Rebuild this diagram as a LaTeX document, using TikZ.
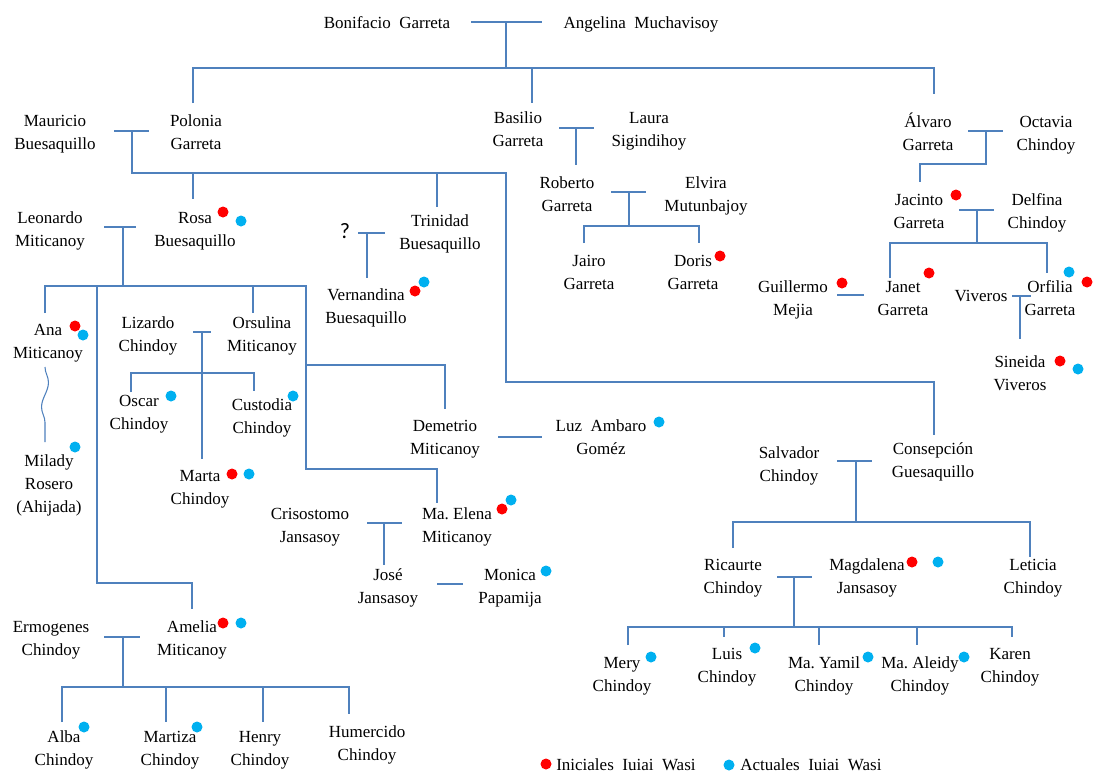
\documentclass[tikz,border=0pt]{standalone}
\usepackage{fontspec}
\setmainfont{Liberation Serif}
\newfontfamily\qfont{Carlito}
\usetikzlibrary{decorations.pathmorphing}
\definecolor{lnblue}{RGB}{79,129,189}
\definecolor{dred}{RGB}{255,0,0}
\definecolor{dblue}{RGB}{0,176,240}
\newcommand\twoln[2]{\strut#1\\\strut#2}
\frenchspacing
\begin{document}
\begin{tikzpicture}[x=0.75pt,y=-0.75pt,
  nm/.style={font=\fontsize{12.75pt}{17.25pt}\selectfont, align=center, inner sep=0pt, yshift=-1.5pt},
  rdot/.style={circle, fill=dred, inner sep=0pt, minimum size=8.25pt},
  bdot/.style={circle, fill=dblue, inner sep=0pt, minimum size=8.25pt},
  ln/.style={draw=lnblue, line width=0.8pt},
  wavy/.style={draw=lnblue, line width=0.8pt, decorate, decoration={snake, segment length=37pt, amplitude=2.6pt}}]
\useasboundingbox[fill=white] (0,0) rectangle (1095,782);

% ---------- people ----------
\node[nm] (bon) at (387,22) {\strut Bonifacio\ \ Garreta};
\node[nm] (ang) at (641,22) {\strut Angelina\ \ Muchavisoy};
\node[nm] (mau) at (55,131.5) {\twoln{Mauricio}{Buesaquillo}};
\node[nm] (pol) at (196,131.5) {\twoln{Polonia}{Garreta}};
\node[nm] (bas) at (518,128.5) {\twoln{Basilio}{Garreta}};
\node[nm] (lau) at (649,128.5) {\twoln{Laura}{Sigindihoy}};
\node[nm] (alv) at (928,132) {\twoln{Álvaro}{Garreta}};
\node[nm] (oct) at (1046,132) {\twoln{Octavia}{Chindoy}};
\node[nm] (rob) at (567,193) {\twoln{Roberto}{Garreta}};
\node[nm] (elv) at (706,193) {\twoln{Elvira}{Mutunbajoy}};
\node[nm] (jac) at (919,210) {\twoln{Jacinto}{Garreta}};
\node[nm] (del) at (1037,210) {\twoln{Delfina}{Chindoy}};
\node[nm] (leo) at (50,228) {\twoln{Leonardo}{Miticanoy}};
\node[nm] (ros) at (195,228) {\twoln{Rosa}{Buesaquillo}};
\node[nm] (tri) at (440,231.5) {\twoln{Trinidad}{Buesaquillo}};
\node[inner sep=0pt, font=\qfont\fontsize{16.5pt}{18pt}\selectfont] (unk) at (345,231) {?};
\node[nm] (ver) at (366,305.5) {\twoln{Vernandina}{Buesaquillo}};
\node[nm] (jai) at (589,271.5) {\twoln{Jairo}{Garreta}};
\node[nm] (dor) at (693,271.5) {\twoln{Doris}{Garreta}};
\node[nm] (gui) at (793,297) {\twoln{Guillermo}{Mejia}};
\node[nm] (jan) at (903,297) {\twoln{Janet}{Garreta}};
\node[nm] (viv) at (981,295) {\strut Viveros};
\node[nm] (orf) at (1050,297) {\twoln{Orfilia}{Garreta}};
\node[nm] (sin) at (1020,372) {\twoln{Sineida}{Viveros}};
\node[nm] (ana) at (48,340.5) {\twoln{Ana}{Miticanoy}};
\node[nm] (mil) at (49,483) {\strut Milady\\\strut Rosero\\\strut (Ahijada)};
\node[nm] (liz) at (148,333) {\twoln{Lizardo}{Chindoy}};
\node[nm] (ors) at (262,333) {\twoln{Orsulina}{Miticanoy}};
\node[nm] (osc) at (139,411.5) {\twoln{Oscar}{Chindoy}};
\node[nm] (cus) at (262,415.5) {\twoln{Custodia}{Chindoy}};
\node[nm] (mar) at (200,486.5) {\twoln{Marta}{Chindoy}};
\node[nm] (dem) at (445,436.5) {\twoln{Demetrio}{Miticanoy}};
\node[nm] (luz) at (601,436.5) {\twoln{Luz\ \ Ambaro}{Goméz}};
\node[nm] (cri) at (310,524.5) {\twoln{Crisostomo}{Jansasoy}};
\node[nm] (mae) at (457,524.5) {\twoln{Ma.\ Elena}{Miticanoy}};
\node[nm] (jos) at (388,585.5) {\twoln{José}{Jansasoy}};
\node[nm] (mon) at (510,585.5) {\twoln{Monica}{Papamija}};
\node[nm] (sal) at (789,463) {\twoln{Salvador}{Chindoy}};
\node[nm] (con) at (933,459.5) {\twoln{Consepción}{Guesaquillo}};
\node[nm] (ric) at (733,575.5) {\twoln{Ricaurte}{Chindoy}};
\node[nm] (mag) at (867,575.5) {\twoln{Magdalena}{Jansasoy}};
\node[nm] (let) at (1033,575.5) {\twoln{Leticia}{Chindoy}};
\node[nm] (mer) at (622,673) {\twoln{Mery}{Chindoy}};
\node[nm] (lui) at (727,664) {\twoln{Luis}{Chindoy}};
\node[nm] (yam) at (824,673) {\twoln{Ma.\ Yamil}{Chindoy}};
\node[nm] (ale) at (920,673) {\twoln{Ma.\ Aleidy}{Chindoy}};
\node[nm] (kar) at (1010,664) {\twoln{Karen}{Chindoy}};
\node[nm] (erm) at (51,637.5) {\twoln{Ermogenes}{Chindoy}};
\node[nm] (ame) at (192,637.5) {\twoln{Amelia}{Miticanoy}};
\node[nm] (alb) at (64,747) {\twoln{Alba}{Chindoy}};
\node[nm] (mti) at (170,747) {\twoln{Martiza}{Chindoy}};
\node[nm] (hen) at (260,747) {\twoln{Henry}{Chindoy}};
\node[nm] (hum) at (367,742.5) {\twoln{Humercido}{Chindoy}};

% legend
\node[rdot] (lgr) at (546,764) {};
\node[nm, anchor=west] (lgrt) at (556,764) {\strut Iniciales\ \ Iuiai\ \ Wasi};
\node[bdot] (lgb) at (729,765) {};
\node[nm, anchor=west] (lgbt) at (740,764) {\strut Actuales\ \ Iuiai\ \ Wasi};

% ---------- junction points ----------
\coordinate (t1) at (471,22); \coordinate (t2) at (542,22);
\coordinate (t3) at (506,22); \coordinate (t4) at (506,68);
\coordinate (t5) at (193,103); \coordinate (t6) at (193,68);
\coordinate (t7) at (934,68); \coordinate (t8) at (934,94);
\coordinate (t9) at (532,68); \coordinate (t10) at (532,103);

\coordinate (p1) at (114,131); \coordinate (p2) at (149,131);
\coordinate (p3) at (132,131); \coordinate (p4) at (132,173);
\coordinate (p5) at (506,173); \coordinate (p6) at (506,382);
\coordinate (p7) at (934,382); \coordinate (p8) at (934,435);
\coordinate (p9) at (193,173); \coordinate (p10) at (193,199);
\coordinate (p11) at (437,173); \coordinate (p12) at (437,207);

\coordinate (b1) at (559,128); \coordinate (b2) at (594,128);
\coordinate (b3) at (576,128); \coordinate (b4) at (576,165);
\coordinate (r1) at (611,192); \coordinate (r2) at (646,192);
\coordinate (r3) at (629,192); \coordinate (r4) at (629,226);
\coordinate (r5) at (584,243); \coordinate (r6) at (584,226);
\coordinate (r7) at (699,226); \coordinate (r8) at (699,243);

\coordinate (a1) at (968,131); \coordinate (a2) at (1003,131);
\coordinate (a3) at (986,131); \coordinate (a4) at (986,164);
\coordinate (a5) at (920,164); \coordinate (a6) at (920,182);
\coordinate (j1) at (959,210); \coordinate (j2) at (994,210);
\coordinate (j3) at (977,210); \coordinate (j4) at (977,243);
\coordinate (j5) at (890,278); \coordinate (j6) at (890,243);
\coordinate (j7) at (1047,243); \coordinate (j8) at (1047,273);
\coordinate (g1) at (837,295); \coordinate (g2) at (864,295);
\coordinate (v1) at (1012,296); \coordinate (v2) at (1031,296);
\coordinate (v3) at (1020,296); \coordinate (v4) at (1020,339);

\coordinate (l1) at (104,227); \coordinate (l2) at (136,227);
\coordinate (l3) at (123,227); \coordinate (l4) at (123,286);
\coordinate (l5) at (45,313); \coordinate (l6) at (45,286);
\coordinate (l7) at (306,286); \coordinate (l8) at (306,469);
\coordinate (l9) at (437,469); \coordinate (l10) at (437,503);
\coordinate (l11) at (97,286); \coordinate (l12) at (97,583);
\coordinate (l13) at (192,583); \coordinate (l14) at (192,609);
\coordinate (l15) at (253,286); \coordinate (l16) at (253,313);
\coordinate (l17) at (306,365); \coordinate (l18) at (445,365);
\coordinate (l19) at (445,409);
\coordinate (w1) at (45,367); \coordinate (w2) at (45,442);

\coordinate (q1) at (358,233); \coordinate (q2) at (385,233);
\coordinate (q3) at (367,233); \coordinate (q4) at (367,278);

\coordinate (o1) at (193,332); \coordinate (o2) at (211,332);
\coordinate (o3) at (202,332); \coordinate (o4) at (202,459);
\coordinate (o5) at (131,392); \coordinate (o6) at (131,373);
\coordinate (o7) at (254,373); \coordinate (o8) at (254,391);

\coordinate (d1) at (498,437); \coordinate (d2) at (542,437);
\coordinate (c1) at (367,523); \coordinate (c2) at (402,523);
\coordinate (c3) at (384,523); \coordinate (c4) at (384,565);
\coordinate (m1) at (437,584); \coordinate (m2) at (463,584);

\coordinate (s1) at (837,461); \coordinate (s2) at (872,461);
\coordinate (s3) at (856,461); \coordinate (s4) at (856,522);
\coordinate (s5) at (733,548); \coordinate (s6) at (733,522);
\coordinate (s7) at (1030,522); \coordinate (s8) at (1030,557);
\coordinate (k1) at (777,577); \coordinate (k2) at (812,577);
\coordinate (k3) at (794,577); \coordinate (k4) at (794,627);
\coordinate (k5) at (628,645); \coordinate (k6) at (628,627);
\coordinate (k7) at (1012,627); \coordinate (k8) at (1012,637);
\coordinate (k9) at (724,627); \coordinate (k10) at (724,637);
\coordinate (k11) at (819,627); \coordinate (k12) at (819,645);
\coordinate (k13) at (917,627); \coordinate (k14) at (917,645);

\coordinate (e1) at (104,637); \coordinate (e2) at (140,637);
\coordinate (e3) at (123,637); \coordinate (e4) at (123,687);
\coordinate (e5) at (62,722); \coordinate (e6) at (62,687);
\coordinate (e7) at (349,687); \coordinate (e8) at (349,714);
\coordinate (e9) at (166,687); \coordinate (e10) at (166,722);
\coordinate (e11) at (263,687); \coordinate (e12) at (263,722);

% ---------- connectors ----------
\draw[ln] (t1) -- (t2);
\draw[ln] (t3) -- (t4);
\draw[ln] (t5) -- (t6) -- (t7) -- (t8);
\draw[ln] (t9) -- (t10);

\draw[ln] (p1) -- (p2);
\draw[ln] (p3) -- (p4) -- (p5) -- (p6) -- (p7) -- (p8);
\draw[ln] (p9) -- (p10);
\draw[ln] (p11) -- (p12);

\draw[ln] (b1) -- (b2);
\draw[ln] (b3) -- (b4);
\draw[ln] (r1) -- (r2);
\draw[ln] (r3) -- (r4);
\draw[ln] (r5) -- (r6) -- (r7) -- (r8);

\draw[ln] (a1) -- (a2);
\draw[ln] (a3) -- (a4) -- (a5) -- (a6);
\draw[ln] (j1) -- (j2);
\draw[ln] (j3) -- (j4);
\draw[ln] (j5) -- (j6) -- (j7) -- (j8);
\draw[ln] (g1) -- (g2);
\draw[ln] (v1) -- (v2);
\draw[ln] (v3) -- (v4);

\draw[ln] (l1) -- (l2);
\draw[ln] (l3) -- (l4);
\draw[ln] (l5) -- (l6) -- (l7) -- (l8) -- (l9) -- (l10);
\draw[ln] (l11) -- (l12) -- (l13) -- (l14);
\draw[ln] (l15) -- (l16);
\draw[ln] (l17) -- (l18) -- (l19);
\draw[wavy] (w1) -- (w2);

\draw[ln] (q1) -- (q2);
\draw[ln] (q3) -- (q4);

\draw[ln] (o1) -- (o2);
\draw[ln] (o3) -- (o4);
\draw[ln] (o5) -- (o6) -- (o7) -- (o8);

\draw[ln] (d1) -- (d2);
\draw[ln] (c1) -- (c2);
\draw[ln] (c3) -- (c4);
\draw[ln] (m1) -- (m2);

\draw[ln] (s1) -- (s2);
\draw[ln] (s3) -- (s4);
\draw[ln] (s5) -- (s6) -- (s7) -- (s8);
\draw[ln] (k1) -- (k2);
\draw[ln] (k3) -- (k4);
\draw[ln] (k5) -- (k6) -- (k7) -- (k8);
\draw[ln] (k9) -- (k10);
\draw[ln] (k11) -- (k12);
\draw[ln] (k13) -- (k14);

\draw[ln] (e1) -- (e2);
\draw[ln] (e3) -- (e4);
\draw[ln] (e5) -- (e6) -- (e7) -- (e8);
\draw[ln] (e9) -- (e10);
\draw[ln] (e11) -- (e12);

% ---------- markers ----------
\node[rdot] (dros1) at (223,212) {};
\node[bdot] (dros2) at (241,221) {};
\node[bdot] (dver2) at (424,282) {};
\node[rdot] (dver1) at (415,291) {};
\node[rdot] (ddor) at (720,256) {};
\node[rdot] (djac) at (956,195) {};
\node[rdot] (djan) at (929,273) {};
\node[rdot] (dgui) at (842,283) {};
\node[bdot] (dorf2) at (1069,272) {};
\node[rdot] (dorf1) at (1087,282) {};
\node[rdot] (dsin1) at (1060,361) {};
\node[bdot] (dsin2) at (1078,369) {};
\node[rdot] (dana1) at (75,326) {};
\node[bdot] (dana2) at (83,335) {};
\node[bdot] (dmil) at (75,447) {};
\node[bdot] (dosc) at (171,396) {};
\node[bdot] (dcus) at (293,396) {};
\node[rdot] (dmar1) at (232,474) {};
\node[bdot] (dmar2) at (249,474) {};
\node[bdot] (dluz) at (659,422) {};
\node[bdot] (dmae2) at (511,500) {};
\node[rdot] (dmae1) at (502,509) {};
\node[bdot] (dmon) at (546,571) {};
\node[rdot] (dmag1) at (912,562) {};
\node[bdot] (dmag2) at (938,562) {};
\node[bdot] (dmer) at (651,657) {};
\node[bdot] (dlui) at (755,648) {};
\node[bdot] (dyam) at (868,657) {};
\node[bdot] (dale) at (964,657) {};
\node[rdot] (dame1) at (223,623) {};
\node[bdot] (dame2) at (241,623) {};
\node[bdot] (dalb) at (84,727) {};
\node[bdot] (dmti) at (197,727) {};
\end{tikzpicture}
\end{document}
